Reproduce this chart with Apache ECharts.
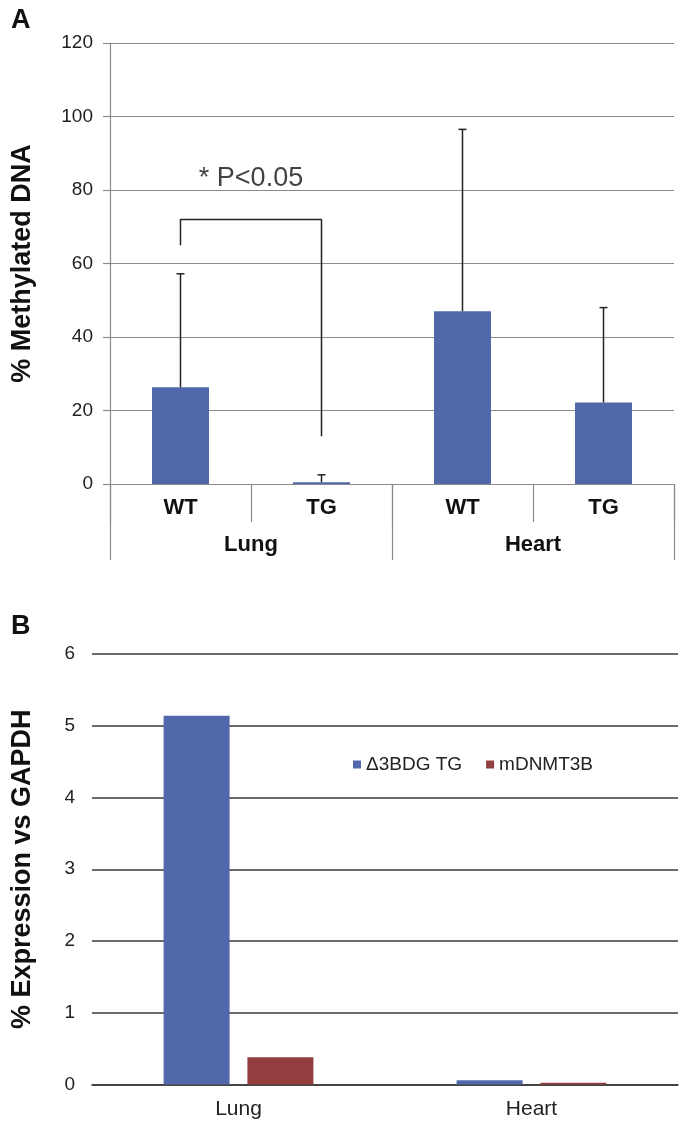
<!DOCTYPE html>
<html>
<head>
<meta charset="utf-8">
<script src="https://cdn.jsdelivr.net/npm/echarts@6/dist/echarts.min.js"></script>
<style>
html,body{margin:0;padding:0;background:#fff;}
#c{width:682px;height:1123px;}
</style>
</head>
<body>
<div id="c"></div>
<script>
// ---- Panel A data ----
const aGroups = ['WT', 'TG', 'WT', 'TG'];
const aTissues = ['Lung', 'Heart'];
const aMeans = [26.3, 0.5, 47, 22.2];
const aUpper = [57.2, 2.5, 96.5, 48];
const aTicks = [0, 20, 40, 60, 80, 100, 120];
const bracketPts = [[0, 65], [0, 72], [1, 72], [1, 13]];
const sigLabel = '* P<0.05';
const sigPos = [0.5, 83];

// ---- Panel B data ----
const bCategories = ['Lung', 'Heart'];
const bSeriesNames = ['\u03943BDG TG', 'mDNMT3B'];
const bTG = [5.14, 0.06];
const bDNMT = [0.38, 0.025];
const bTicks = [0, 1, 2, 3, 4, 5, 6];

const blue = '#5068aa';
const red = '#943f3f';
const FONT = '"Liberation Sans", Arial, sans-serif';

const chart = echarts.init(document.getElementById('c'), null, {renderer: 'canvas'});

const errData = aMeans.map((m, i) => [i, m, aUpper[i]]);

const option = {
  animation: false,
  backgroundColor: '#ffffff',
  textStyle: {fontFamily: FONT},
  title: [
    {text: 'A', left: 6, top: 2, textStyle: {fontSize: 27, fontWeight: 'bold', color: '#111', fontFamily: FONT}},
    {text: 'B', left: 6, top: 608, textStyle: {fontSize: 27, fontWeight: 'bold', color: '#111', fontFamily: FONT}}
  ],
  legend: {
    data: bSeriesNames,
    left: 348, top: 750,
    icon: 'rect', itemWidth: 8, itemHeight: 8, itemGap: 24,
    textStyle: {fontSize: 19, color: '#222', fontFamily: FONT}
  },
  grid: [
    {left: 110, right: 8, top: 43, bottom: 639},
    {left: 92, right: 4, top: 654, bottom: 38.5}
  ],
  xAxis: [
    {
      gridIndex: 0, type: 'category', position: 'bottom', data: aGroups,
      axisLine: {lineStyle: {color: '#8a8a8a', width: 1.2}},
      axisTick: {show: true, length: 38, lineStyle: {color: '#8a8a8a', width: 1.2}},
      axisLabel: {margin: 13, fontSize: 22, fontWeight: 'bold', color: '#111', fontFamily: FONT}
    },
    {
      gridIndex: 0, type: 'category', position: 'bottom', data: aTissues,
      axisLine: {lineStyle: {color: '#8a8a8a', width: 1.2}},
      axisTick: {show: true, length: 76, lineStyle: {color: '#8a8a8a', width: 1.2}},
      axisLabel: {margin: 50, fontSize: 22, fontWeight: 'bold', color: '#111', fontFamily: FONT}
    },
    {
      gridIndex: 0, type: 'value', position: 'top', min: -0.5, max: 3.5, show: false
    },
    {
      gridIndex: 1, type: 'category', data: bCategories,
      axisLine: {lineStyle: {color: '#3a3a3a', width: 1.6}},
      axisTick: {show: false},
      axisLabel: {margin: 14, fontSize: 21, color: '#222', fontFamily: FONT}
    }
  ],
  yAxis: [
    {
      gridIndex: 0, type: 'value', min: aTicks[0], max: aTicks[aTicks.length - 1], interval: 20,
      name: '% Methylated DNA', nameLocation: 'middle', nameGap: 74, nameRotate: 90,
      nameTextStyle: {fontSize: 27, fontWeight: 'bold', color: '#111', fontFamily: FONT},
      axisLine: {show: true, onZero: false, lineStyle: {color: '#8a8a8a', width: 1.2}},
      axisTick: {show: true, length: 7, lineStyle: {color: '#8a8a8a', width: 1.2}},
      axisLabel: {margin: 17, fontSize: 19, color: '#222', fontFamily: FONT},
      splitLine: {show: true, lineStyle: {color: '#8a8a8a', width: 1.2}}
    },
    {
      gridIndex: 1, type: 'value', min: bTicks[0], max: bTicks[bTicks.length - 1], interval: 1,
      name: '% Expression vs GAPDH', nameLocation: 'middle', nameGap: 56, nameRotate: 90,
      nameTextStyle: {fontSize: 27, fontWeight: 'bold', color: '#111', fontFamily: FONT},
      axisLine: {show: false, onZero: false},
      axisTick: {show: false},
      axisLabel: {margin: 17, fontSize: 19, color: '#222', fontFamily: FONT},
      splitLine: {show: true, lineStyle: {color: '#3a3a3a', width: 1.6}}
    }
  ],
  series: [
    {
      type: 'bar', xAxisIndex: 0, yAxisIndex: 0, data: aMeans, barWidth: 57,
      itemStyle: {color: blue}, z: 2
    },
    {
      type: 'custom', xAxisIndex: 0, yAxisIndex: 0, data: errData,
      encode: {x: 0, y: [1, 2]}, z: 5,
      renderItem: function (params, api) {
        const x = api.value(0);
        const lo = api.coord([x, api.value(1)]);
        const hi = api.coord([x, api.value(2)]);
        const w = 4;
        const st = {stroke: '#222', lineWidth: 1.5};
        return {type: 'group', children: [
          {type: 'line', shape: {x1: lo[0], y1: lo[1], x2: hi[0], y2: hi[1]}, style: st},
          {type: 'line', shape: {x1: hi[0] - w, y1: hi[1], x2: hi[0] + w, y2: hi[1]}, style: st}
        ]};
      }
    },
    {
      type: 'line', xAxisIndex: 2, yAxisIndex: 0, data: bracketPts,
      symbol: 'none', lineStyle: {color: '#222', width: 1.5}, z: 5, silent: true
    },
    {
      type: 'scatter', xAxisIndex: 2, yAxisIndex: 0, data: [sigPos], symbolSize: 1,
      itemStyle: {color: 'rgba(0,0,0,0)'},
      label: {show: true, position: 'inside', formatter: sigLabel, fontSize: 27, color: '#111', fontFamily: FONT},
      z: 6, silent: true
    },
    {
      name: bSeriesNames[0], type: 'bar', xAxisIndex: 3, yAxisIndex: 1, data: bTG,
      barWidth: 66, barGap: '27%', itemStyle: {color: blue}
    },
    {
      name: bSeriesNames[1], type: 'bar', xAxisIndex: 3, yAxisIndex: 1, data: bDNMT,
      barWidth: 66, barGap: '27%', itemStyle: {color: red}
    }
  ]
};
chart.setOption(option);
</script>
</body>
</html>
